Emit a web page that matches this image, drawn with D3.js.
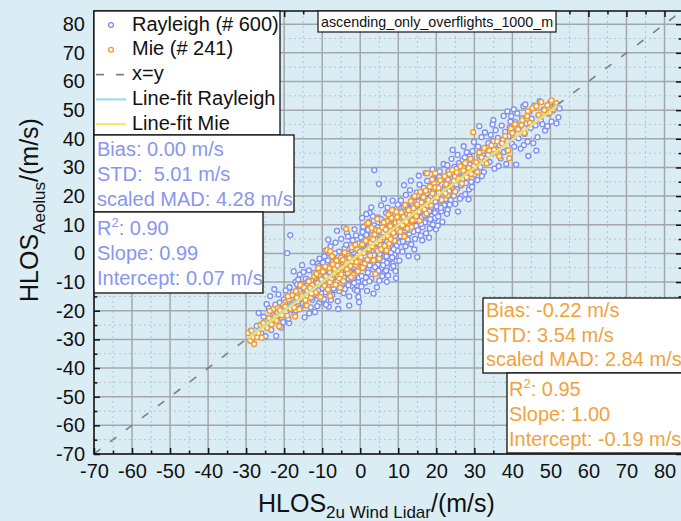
<!DOCTYPE html>
<html><head><meta charset="utf-8">
<script src="https://cdn.jsdelivr.net/npm/d3@7"></script>
<style>
html,body{margin:0;padding:0;background:#dbedf4;}
svg{display:block;font-family:"Liberation Sans",Arial,sans-serif;}
</style></head><body>
<svg id="chart" width="681" height="521"></svg>
<script>
// ---- data ----
const title = "ascending_only_overflights_1000_m";
const axisTicks = [-70,-60,-50,-40,-30,-20,-10,0,10,20,30,40,50,60,70,80];
const minorTicks = [-65,-55,-45,-35,-25,-15,-5,5,15,25,35,45,55,65,75];

// [HLOS 2u Wind Lidar, HLOS Aeolus] in m/s
const rayleigh = [
[-28.5,-30.1],[-27.2,-25.3],[-26.0,-27.9],[-25.4,-22.1],[-24.6,-17.7],[-23.7,-14.9],[-23.1,-20.4],[-22.6,-12.5],[-22.1,-28.8],[-21.8,-23.0],
[-21.2,-17.2],[-20.8,-25.9],[-20.3,-24.0],[-20.1,-16.1],[-24.0,-19.2],[-25.8,-24.6],[-27.9,-28.2],[-22.9,-21.5],[-21.5,-14.3],[-26.7,-20.8],
[-23.4,-26.7],[-24.9,-28.9],[-20.6,-19.8],[-22.3,-17.9],[-28.8,-27.0],
[-19.2,0.1],[-18.4,6.4],[-18.7,-24.3],[-19.5,-20.6],[-19.0,-15.4],[-18.6,-11.8],[-18.1,-18.0],[-17.7,-13.6],[-17.3,-21.2],[-17.0,-9.9],
[-16.8,-16.5],[-16.5,-12.7],[-16.2,-19.3],[-15.9,-7.4],[-15.6,-14.0],[-15.4,-10.6],[-15.1,-17.6],[-14.8,-12.2],[-14.6,-22.3],[-14.3,-8.8],
[-14.0,-15.1],[-13.8,-11.0],[-13.5,-5.9],[-13.3,-13.7],[-13.0,-18.8],[-12.8,-9.6],[-12.6,-16.2],[-12.3,-12.4],[-12.1,-6.8],[-11.9,-20.5],
[-11.7,-10.2],[-11.4,-14.6],[-11.2,-3.6],[-11.0,-8.1],[-10.8,-17.3],[-10.6,-11.7],[-10.4,-5.2],[-10.2,-13.9],[-10.1,-9.0],[-19.8,-17.1],
[-18.9,-22.8],[-17.5,-6.3],[-16.9,-19.9],[-16.0,-13.1],[-15.3,-4.1],[-14.4,-17.9],[-13.6,-9.4],[-12.9,-15.5],[-12.2,-10.9],[-11.6,-7.5],
[-11.1,-12.9],[-10.7,-1.8],[-10.3,-16.0],[-17.9,-14.7],[-16.3,-9.1],[-15.7,-19.0],[-14.9,-6.5],[-13.1,-11.6],[-12.5,-3.1],[-11.3,-18.4],
[-10.5,-7.9],[-14.1,-13.0],[-13.4,-20.9],[-16.6,-10.8],[-18.3,-19.6],[-15.0,-15.8],[-12.0,-14.1],[-10.9,-4.4],[-17.1,-17.0],[-19.6,-12.9],
[-9.9,-12.1],[-9.8,-3.2],[-9.6,-8.5],[-9.5,-15.9],[-9.3,-6.0],[-9.2,0.9],[-9.0,-10.7],[-8.9,-4.8],[-8.7,-13.3],[-8.6,-1.6],
[-8.4,-7.7],[-8.3,-18.6],[-8.1,-5.4],[-8.0,-11.2],[-7.8,2.5],[-7.7,-8.9],[-7.5,-3.9],[-7.4,-14.5],[-7.2,-6.7],[-7.1,-0.4],
[-6.9,-10.0],[-6.8,-4.3],[-6.6,-12.8],[-6.5,3.8],[-6.3,-7.1],[-6.2,-2.2],[-6.0,-9.6],[-5.9,-16.7],[-5.7,-5.0],[-5.6,0.6],
[-5.4,-8.2],[-5.3,-3.5],[-5.1,-11.9],[-5.0,5.1],[-4.8,-6.3],[-4.7,-1.0],[-4.5,-9.2],[-4.4,-13.8],[-4.2,-4.6],[-4.1,1.7],
[-3.9,-7.4],[-3.8,-2.7],[-3.6,-10.5],[-3.5,7.2],[-3.3,-5.7],[-3.2,-0.1],[-3.0,-8.8],[-2.9,-15.0],[-2.7,-3.4],[-2.6,2.9],
[-2.4,-6.9],[-2.3,-1.5],[-2.1,-11.4],[-2.0,4.6],[-1.8,-4.9],[-1.7,0.3],[-1.5,-8.0],[-1.4,-12.6],[-1.2,-2.5],[-1.1,6.3],
[-0.9,-6.2],[-0.8,-0.7],[-0.6,-9.8],[-0.5,-15.2],[-0.3,-17.0],[-0.2,2.0],[-0.1,-4.1],[-9.4,-1.0],[-8.8,-9.7],[-8.2,-14.0],
[-7.6,-2.9],[-7.0,-12.2],[-6.4,-5.8],[-5.8,-0.9],[-5.2,-7.6],[-4.6,-3.0],[-4.0,-12.4],[-3.4,-1.9],[-2.8,-6.4],[-2.2,1.2],
[-1.6,-10.3],[-1.0,-3.7],[-0.4,3.5],[-9.7,-6.9],[-9.1,-13.5],[-8.5,-2.4],[-7.9,-7.0],[-7.3,-10.9],[-6.7,0.0],[-6.1,-4.0],
[-5.5,-13.1],[-4.9,-2.0],[-4.3,-8.5],[-3.7,3.0],[-3.1,-11.1],[-2.5,-4.4],[-1.9,-8.6],[-1.3,1.5],[-0.7,-5.3],[-0.1,-1.2],
[-9.0,-17.9],[-7.7,-16.3],[-6.1,7.9],[-4.3,9.1],[-2.9,-18.2],[-1.5,8.4],[-8.4,4.8],[-5.8,-19.4],[-3.2,5.9],[-0.8,-13.0],
[-7.0,-4.6],[-5.0,-6.0],[-3.0,-3.1],[-1.0,-7.2],[-6.0,-8.0],[-4.0,-5.1],[-2.0,-2.8],[-8.0,-6.5],[-9.5,-9.3],[-0.4,-8.4],
[0.1,-3.0],[0.2,5.6],[0.4,-7.9],[0.5,1.1],[0.7,-1.7],[0.8,9.3],[1.0,-5.1],[1.1,2.8],[1.3,-10.2],[1.4,0.2],
[1.6,6.5],[1.7,-3.6],[1.9,3.9],[2.0,-6.7],[2.2,-0.8],[2.3,11.0],[2.5,-4.2],[2.6,1.8],[2.8,7.4],[2.9,-8.8],
[3.1,-1.4],[3.2,4.7],[3.4,-5.6],[3.5,0.9],[3.7,29.1],[3.7,9.8],[3.8,-2.3],[4.0,3.3],[4.1,-7.0],[4.3,6.1],
[4.4,0.0],[4.6,-3.9],[4.7,12.6],[4.9,24.3],[4.9,2.4],[5.0,-9.5],[5.2,7.7],[5.3,-1.1],[5.5,4.2],[5.6,-5.3],
[5.8,10.5],[5.9,1.4],[6.1,-2.8],[6.2,5.0],[6.4,-6.4],[6.5,8.6],[6.7,0.6],[6.8,14.1],[7.0,-3.3],[7.1,3.6],
[7.3,-7.7],[7.4,6.8],[7.6,1.9],[7.7,11.8],[7.9,-1.9],[8.0,4.4],[8.2,-5.0],[8.3,9.0],[8.5,2.2],[8.6,15.3],
[8.7,-3.4],[8.7,-4.4],[8.9,6.3],[9.0,-0.5],[9.2,12.2],[9.3,3.0],[9.5,-2.6],[9.6,8.0],[9.8,0.9],[9.9,17.0],
[0.3,-11.6],[0.9,3.5],[1.5,-8.4],[2.1,8.3],[2.7,-2.1],[3.3,13.0],[3.9,-4.8],[4.5,9.1],[5.1,-0.3],[5.7,2.9],
[6.3,11.2],[6.9,-1.0],[7.5,9.7],[8.1,0.4],[8.7,7.1],[9.3,-6.2],[9.9,5.5],[0.6,7.5],[1.2,-0.9],[1.8,10.3],
[2.4,-9.7],[3.0,2.5],[3.6,-0.6],[4.2,8.2],[4.8,-6.1],[5.4,12.0],[6.0,-4.1],[6.6,3.1],[7.2,16.0],[7.8,5.3],
[8.4,-1.4],[9.0,10.6],[9.6,2.7],[0.05,0.8],[1.05,4.3],[2.15,2.2],[3.05,6.4],[3.95,5.2],[5.15,3.1],[6.05,7.3],
[7.05,4.1],[8.05,8.4],[9.15,6.1],[2.5,14.2],[5.5,16.8],[8.5,18.4],[1.8,-13.1],[4.4,-11.8],[7.0,-9.9],[6.2,19.0],
[3.5,-14.0],[9.4,-8.6],[0.5,12.4],[7.9,13.5],[5.8,-7.9],[2.9,16.1],[6.8,-6.0],[8.8,1.5],[4.0,1.6],[1.6,13.7],
[10.1,7.3],[10.2,14.6],[10.4,3.9],[10.5,10.2],[10.7,18.5],[10.8,5.7],[11.0,12.1],[11.1,0.6],[11.3,9.0],[11.4,16.3],
[11.6,6.4],[11.7,13.3],[11.9,2.5],[12.0,20.4],[12.2,8.8],[12.3,11.6],[12.5,4.9],[12.6,15.7],[12.8,9.9],[12.9,6.9],
[13.1,22.1],[13.2,12.8],[13.4,3.2],[13.5,17.5],[13.7,10.4],[13.8,14.9],[14.0,7.6],[14.1,19.6],[14.3,12.3],[14.4,5.1],
[14.6,16.4],[14.7,9.6],[14.9,21.3],[15.0,-1.3],[15.0,13.7],[15.2,8.1],[15.3,18.2],[15.5,11.1],[15.6,24.0],[15.8,14.4],
[15.9,6.2],[16.1,20.0],[16.2,12.7],[16.4,9.2],[16.5,17.1],[16.7,22.9],[16.8,15.0],[17.0,10.8],[17.1,19.2],[17.3,7.0],
[17.4,13.9],[17.6,25.3],[17.7,16.6],[17.9,11.9],[18.0,21.7],[18.2,14.8],[18.3,8.7],[18.5,19.9],[18.6,23.6],[18.8,13.0],
[18.9,17.8],[19.1,10.1],[19.2,26.2],[19.4,15.6],[19.5,20.8],[19.7,12.4],[19.8,18.0],[10.3,-2.5],[11.5,23.8],[12.7,-0.9],
[13.3,25.4],[14.2,1.4],[15.4,27.1],[16.3,4.6],[17.2,28.0],[18.1,5.5],[19.0,29.3],[19.9,8.4],[10.9,9.4],[12.4,13.9],
[13.9,11.3],[15.7,16.9],[17.8,18.9],[18.7,16.1],[11.8,10.7],[14.8,14.1],[16.9,13.4],[19.3,22.5],[13.0,8.3],[16.0,10.3],
[17.5,21.0],[19.6,14.2],[10.6,6.0],[12.1,16.8],[14.5,11.8],[16.6,19.0],[18.4,12.0],[11.2,4.2],[15.1,20.1],[17.0,15.3],
[20.1,16.4],[20.3,24.8],[20.5,12.9],[20.7,21.2],[20.9,28.6],[21.1,18.3],[21.3,14.7],[21.5,25.9],[21.7,20.5],[21.9,31.2],
[22.1,16.9],[22.3,23.4],[22.5,19.0],[22.7,27.0],[22.9,30.8],[23.0,15.2],[23.2,28.7],[23.4,21.8],[23.6,25.1],[23.8,18.6],
[24.0,33.0],[24.2,23.0],[24.4,27.8],[24.6,20.1],[24.8,30.2],[25.0,17.3],[25.2,25.6],[25.4,22.4],[25.6,34.4],[25.8,28.1],
[26.0,31.5],[26.3,28.7],[26.5,23.7],[26.7,20.0],[26.9,32.6],[27.1,26.4],[27.3,29.9],[27.6,20.7],[27.8,24.5],[28.0,35.3],
[28.2,30.7],[28.4,27.3],[28.6,22.3],[28.8,33.8],[29.0,29.1],[29.2,25.0],[29.5,35.7],[29.7,31.9],[30.0,27.5],[20.4,9.7],
[21.6,11.0],[22.8,13.8],[24.3,36.1],[25.7,14.6],[27.2,37.4],[28.5,18.9],[20.8,26.6],[22.0,22.1],[23.5,17.0],[24.9,26.9],
[26.2,19.1],[27.5,33.5],[29.4,23.2],[21.2,15.9],[23.1,25.8],[25.3,29.5],[26.8,25.9],[28.9,31.0],[29.9,38.9],[20.6,19.6],
[30.8,25.6],[31.0,37.3],[31.3,44.4],[31.3,34.0],[31.6,30.1],[31.9,40.6],[32.2,35.8],[32.5,28.4],[32.8,42.2],[33.1,33.3],
[33.4,37.0],[33.7,38.5],[34.0,31.9],[34.3,41.4],[34.6,35.0],[35.0,46.5],[35.0,39.2],[35.3,29.6],[35.6,43.0],[35.9,36.4],
[36.2,40.3],[36.6,37.8],[36.9,33.1],[37.2,44.6],[37.5,39.6],[37.8,35.4],[38.1,42.4],[38.4,31.2],[38.7,49.6],[38.7,36.0],
[39.0,40.9],[39.3,44.0],[39.5,46.0],[39.7,47.9],[39.9,38.2],[32.0,27.0],[34.8,45.0],[36.4,30.5],[33.6,34.4],[37.7,48.0],
[40.2,42.6],[40.5,37.3],[40.8,45.8],[41.0,31.0],[41.3,48.9],[41.6,40.2],[41.9,44.1],[42.2,36.6],[42.5,47.2],[42.9,51.4],
[43.2,41.7],[43.4,52.0],[43.7,45.3],[44.0,39.0],[44.2,34.0],[44.5,49.4],[44.8,43.8],[45.1,47.0],[45.5,38.5],[45.8,51.6],
[46.1,44.7],[46.6,40.6],[46.9,48.2],[47.2,53.1],[47.5,46.3],[47.9,45.1],[48.2,50.2],[48.6,42.9],[49.2,44.4],[49.5,48.7],
[49.9,52.6],[50.3,46.0],[50.7,49.9],[51.2,51.3],[51.6,45.4],[52.1,47.5],[52.4,50.6],[40.4,50.3],[43.0,37.8],[46.3,35.9]
];

const mie = [
[-29.5,-27.8],[-28.9,-30.5],[-28.2,-29.2],[-27.9,-31.6],[-27.1,-29.2],[-26.8,-27.8],[-26.2,-25.0],[-25.5,-24.3],[-24.5,-26.0],[-24.0,-22.6],
[-23.3,-24.8],[-22.9,-19.4],[-22.4,-22.0],[-21.6,-19.1],[-21.3,-25.4],[-21.1,-19.8],[-20.6,-21.6],[-20.2,-17.9],[-28.6,-26.9],[-25.9,-29.4],
[-23.8,-20.1],[-22.0,-23.5],
[-19.7,-18.5],[-19.2,-21.7],[-18.8,-16.1],[-18.3,-19.3],[-17.9,-14.6],[-17.4,-18.9],[-16.9,-13.2],[-16.5,-16.8],[-16.0,-19.5],[-15.5,-14.2],
[-15.3,-14.9],[-14.8,-11.9],[-14.4,-16.3],[-13.9,-13.0],[-13.5,-9.8],[-13.0,-15.4],[-12.6,-11.1],[-12.1,-8.0],[-11.7,-13.6],[-11.2,-10.4],
[-11.0,-5.1],[-10.5,-15.2],[-10.2,-9.1],[-17.1,-22.0],[-15.8,-11.0],[-14.1,-18.2],[-12.8,-14.0],[-11.5,-7.2],[-19.0,-15.0],[-13.2,-12.1],
[-9.8,-6.4],[-9.4,-11.3],[-9.0,-8.0],[-8.7,1.2],[-8.5,-12.6],[-8.2,-5.2],[-7.9,0.8],[-7.9,-14.9],[-7.6,-9.0],[-7.2,-3.8],
[-6.9,-7.1],[-6.5,-10.9],[-6.2,-2.5],[-5.8,-6.0],[-5.5,-8.7],[-5.1,-1.4],[-4.8,-4.9],[-4.4,-9.6],[-4.1,0.3],[-3.7,8.5],
[-3.7,-3.2],[-3.3,-6.8],[-3.0,-0.9],[-2.6,-4.4],[-2.2,2.1],[-1.9,-7.5],[-1.5,-1.8],[-1.2,-4.0],[-0.8,1.4],[-0.4,-2.6],
[-0.1,0.6],[-9.2,-4.6],[-8.0,-10.1],[-6.7,-5.4],[-5.3,-12.0],[-4.6,-2.2],[-3.5,-5.5],[-2.4,-8.3],[-1.3,3.0],[-0.6,-6.2],
[-7.4,-1.0],[-6.0,-4.2],[-2.8,-1.6],[-1.0,-3.0],[-5.0,-7.3],
[0.2,-1.3],[0.5,3.1],[0.9,0.2],[1.2,-3.6],[1.5,4.4],[1.8,10.2],[2.1,10.6],[2.3,1.6],[2.6,-0.8],[2.9,5.3],
[3.2,2.4],[3.5,-2.4],[3.8,6.6],[4.0,-7.2],[4.3,3.8],[4.6,0.9],[4.9,7.9],[5.2,4.6],[5.5,1.5],[5.8,9.1],
[6.1,5.7],[6.4,2.6],[6.7,8.3],[7.0,11.2],[7.3,6.0],[7.6,3.4],[7.9,9.5],[8.2,12.4],[8.4,15.1],[8.7,7.1],
[9.0,4.4],[9.3,10.7],[9.7,12.7],[9.9,8.2],[0.7,-5.0],[3.0,8.9],[5.0,-1.8],[6.9,1.0],[8.0,5.0],[1.9,-2.2],
[4.5,12.0],[6.2,10.8],[9.5,14.5],[2.7,3.7],[7.4,13.6],
[10.2,10.9],[10.5,7.6],[10.8,14.3],[11.1,9.8],[11.4,12.7],[11.8,16.9],[12.1,11.0],[12.4,8.7],[12.7,15.1],[13.0,13.4],
[13.3,18.2],[13.7,11.6],[14.0,15.8],[14.3,20.0],[14.7,13.0],[15.0,17.1],[15.4,14.6],[15.8,21.4],[16.1,17.8],[16.6,19.6],
[16.9,15.3],[17.2,21.9],[17.6,28.0],[17.9,18.6],[18.3,23.3],[18.6,16.7],[19.0,20.9],[19.4,24.6],[19.7,28.0],[19.7,23.0],
[11.6,5.9],[13.5,9.2],[15.6,11.4],[17.4,13.9],[18.9,25.8],
[20.2,19.5],[20.6,22.8],[21.0,25.5],[21.4,18.7],[21.8,21.3],[22.2,26.9],[22.6,24.1],[23.0,20.2],[23.4,27.7],[23.8,23.6],
[24.2,29.1],[24.6,25.3],[25.0,21.6],[25.4,28.3],[25.8,26.0],[26.3,30.4],[26.7,24.4],[27.1,28.9],[27.6,31.5],[28.0,26.6],
[28.5,29.8],[29.0,33.0],[29.2,27.7],[29.7,42.3],[29.9,30.6],
[30.5,31.8],[30.8,28.4],[31.3,35.2],[31.9,33.5],[32.6,36.8],[33.2,31.4],[33.9,35.9],[34.5,37.7],[35.2,36.2],[36.0,39.1],
[36.3,34.6],[36.6,33.9],[37.3,38.4],[38.1,41.0],[38.9,36.0],[39.2,33.2],[39.6,43.5],[40.0,42.0],
[40.7,45.1],[41.5,43.3],[42.4,44.8],[42.6,46.5],[43.2,42.0],[43.9,47.9],[44.6,45.6],[45.3,50.7],[46.3,51.4],[46.9,48.3],
[47.6,52.8],[48.4,50.0],[49.2,51.7],[49.8,49.1],[50.8,50.3],[51.6,52.4],[44.1,49.6],[50.3,53.4],[-16.7,-15.5],[3.4,4.9],[22.4,20.9]
];

// linear fits: [slope, intercept]
const rayleighFit = [0.99, 0.07];
const mieFit = [1.00, -0.19];

const legendLabels = ["Rayleigh (# 600)", "Mie (# 241)", "x=y", "Line-fit Rayleigh", "Line-fit Mie"];
const rayleighErrText = ["Bias: 0.00 m/s", "STD:  5.01 m/s", "scaled MAD: 4.28 m/s"];
const rayleighFitText = [["R", "2", ": 0.90"], ["Slope: 0.99"], ["Intercept: 0.07 m/s"]];
const mieErrText = ["Bias: -0.22 m/s", "STD: 3.54 m/s", "scaled MAD: 2.84 m/s"];
const mieFitText = [["R", "2", ": 0.95"], ["Slope: 1.00"], ["Intercept: -0.19 m/s"]];

// ---- styles ----
const C = {
  bg: "#dbedf4",
  ray: "#7d8df4",
  rayText: "#8896ee",
  mie: "#f39c2c",
  mieText: "#f2a23c",
  rayFit: "#8fdcf2",
  mieFit: "#f5e064",
  diag: "#7f7f7f",
  major: "#a2a8aa",
  minor: "#b9c3c7"
};
const FS = 20;
const tickText = d => String(d);   // plain hyphen-minus for negatives

const svg = d3.select("#chart");
const x = d3.scaleLinear().domain([-70, 84.6]).range([94, 682]);
const y = d3.scaleLinear().domain([-70, 84.6]).range([454, 11]);
const [x0, x1] = x.range();
const [y0, y1] = y.range();

svg.append("rect").attr("width", 681).attr("height", 521).attr("fill", C.bg);

svg.append("defs").append("clipPath").attr("id", "plotclip")
  .append("rect").attr("x", x0).attr("y", y1).attr("width", x1 - x0).attr("height", y0 - y1);

// grid
const grid = svg.append("g");
grid.selectAll(".gxm").data(minorTicks).join("line")
  .attr("x1", d => x(d)).attr("x2", d => x(d)).attr("y1", y1).attr("y2", y0)
  .attr("stroke", C.minor).attr("stroke-width", 1).attr("stroke-dasharray", "2,3");
grid.selectAll(".gym").data(minorTicks).join("line")
  .attr("y1", d => y(d)).attr("y2", d => y(d)).attr("x1", x0).attr("x2", x1)
  .attr("stroke", C.minor).attr("stroke-width", 1).attr("stroke-dasharray", "2,3");
grid.selectAll(".gx").data(axisTicks).join("line")
  .attr("x1", d => x(d)).attr("x2", d => x(d)).attr("y1", y1).attr("y2", y0)
  .attr("stroke", C.major).attr("stroke-width", 1.5);
grid.selectAll(".gy").data(axisTicks).join("line")
  .attr("y1", d => y(d)).attr("y2", d => y(d)).attr("x1", x0).attr("x2", x1)
  .attr("stroke", C.major).attr("stroke-width", 1.5);

const plot = svg.append("g").attr("clip-path", "url(#plotclip)");

// scatter
plot.append("g").selectAll("circle").data(rayleigh).join("circle")
  .attr("cx", d => x(d[0])).attr("cy", d => y(d[1])).attr("r", 2.5)
  .attr("fill", "#f3f6fd").attr("stroke", C.ray).attr("stroke-width", 1.3);
plot.append("g").selectAll("circle").data(mie).join("circle")
  .attr("cx", d => x(d[0])).attr("cy", d => y(d[1])).attr("r", 2.5)
  .attr("fill", "#fdf6ec").attr("stroke", C.mie).attr("stroke-width", 1.4);

// x = y reference
const dom = x.domain();
plot.append("line")
  .attr("x1", x(dom[0])).attr("y1", y(dom[0])).attr("x2", x(dom[1])).attr("y2", y(dom[1]))
  .attr("stroke", C.diag).attr("stroke-width", 1.6).attr("stroke-dasharray", "8,12");

// fit lines over each series' x-range
function fitLine(pts, fit, color) {
  const ext = d3.extent(pts, d => d[0]);
  plot.append("line")
    .attr("x1", x(ext[0])).attr("y1", y(fit[0] * ext[0] + fit[1]))
    .attr("x2", x(ext[1])).attr("y2", y(fit[0] * ext[1] + fit[1]))
    .attr("stroke", color).attr("stroke-width", 2);
}
fitLine(rayleigh, rayleighFit, C.rayFit);
fitLine(mie, mieFit, C.mieFit);

// axes (ticks point inward)
function styleAxis(g) {
  g.select(".domain").remove();
  g.selectAll("line").attr("stroke", "#111").attr("stroke-width", 1.5);
  g.selectAll("text").attr("font-size", FS).attr("fill", "#111")
    .attr("font-family", '"Liberation Sans", Arial, sans-serif');
}
svg.append("g").attr("transform", `translate(0,${y0})`)
  .call(d3.axisBottom(x).tickValues(axisTicks).tickSize(-6).tickPadding(10).tickFormat(tickText))
  .call(styleAxis);
svg.append("g").attr("transform", `translate(0,${y0})`)
  .call(d3.axisBottom(x).tickValues(minorTicks).tickSize(-3.5).tickFormat(""))
  .call(styleAxis);
svg.append("g").attr("transform", `translate(${x0},0)`)
  .call(d3.axisLeft(y).tickValues(axisTicks).tickSize(-6).tickPadding(9).tickFormat(tickText))
  .call(styleAxis);
svg.append("g").attr("transform", `translate(${x0},0)`)
  .call(d3.axisLeft(y).tickValues(minorTicks).tickSize(-3.5).tickFormat(""))
  .call(styleAxis);
svg.append("g").attr("transform", `translate(0,${y1})`)
  .call(d3.axisTop(x).tickValues(axisTicks).tickSize(-6).tickFormat(""))
  .call(styleAxis);
svg.append("g").attr("transform", `translate(0,${y1})`)
  .call(d3.axisTop(x).tickValues(minorTicks).tickSize(-3.5).tickFormat(""))
  .call(styleAxis);
svg.append("g").attr("transform", `translate(${x1},0)`)
  .call(d3.axisRight(y).tickValues(axisTicks).tickSize(-6).tickFormat(""))
  .call(styleAxis);
svg.append("g").attr("transform", `translate(${x1},0)`)
  .call(d3.axisRight(y).tickValues(minorTicks).tickSize(-3.5).tickFormat(""))
  .call(styleAxis);

// frame
svg.append("rect").attr("x", x0).attr("y", y1).attr("width", x1 - x0).attr("height", y0 - y1)
  .attr("fill", "none").attr("stroke", "#111").attr("stroke-width", 1.5);

// axis titles
const xt = svg.append("text").attr("x", 258).attr("y", 512).attr("fill", "#111");
xt.append("tspan").attr("font-size", 25).text("HLOS");
xt.append("tspan").attr("font-size", 17).attr("dy", 6).text("2u Wind Lidar");
xt.append("tspan").attr("font-size", 25).attr("dy", -6).text("/(m/s)");

const yt = svg.append("text").attr("transform", "translate(38,302) rotate(-90)").attr("fill", "#111");
yt.append("tspan").attr("font-size", 25).text("HLOS");
yt.append("tspan").attr("font-size", 17).attr("dy", 7).text("Aeolus");
yt.append("tspan").attr("font-size", 25).attr("dy", -7).text("/(m/s)");

// title box
svg.append("rect").attr("x", 318).attr("y", 11).attr("width", 238).attr("height", 21)
  .attr("fill", "#fff").attr("stroke", "#111").attr("stroke-width", 1.2);
svg.append("text").attr("x", 321).attr("y", 27).attr("font-size", 14.3).attr("fill", "#111").text(title);

// legend
const lg = svg.append("g");
lg.append("rect").attr("x", 94).attr("y", 11).attr("width", 186).attr("height", 124)
  .attr("fill", "#fff").attr("stroke", "#111").attr("stroke-width", 1.3);
const rowY = i => 25 + i * 24.8;
lg.append("circle").attr("cx", 111).attr("cy", rowY(0)).attr("r", 2.4)
  .attr("fill", "#fff").attr("stroke", C.ray).attr("stroke-width", 1.3);
lg.append("circle").attr("cx", 111).attr("cy", rowY(1)).attr("r", 2.4)
  .attr("fill", "#fff").attr("stroke", C.mie).attr("stroke-width", 1.3);
lg.append("line").attr("x1", 96).attr("x2", 126).attr("y1", rowY(2)).attr("y2", rowY(2))
  .attr("stroke", C.diag).attr("stroke-width", 1.6).attr("stroke-dasharray", "8,12");
lg.append("line").attr("x1", 96).attr("x2", 126).attr("y1", rowY(3)).attr("y2", rowY(3))
  .attr("stroke", C.rayFit).attr("stroke-width", 2);
lg.append("line").attr("x1", 96).attr("x2", 126).attr("y1", rowY(4)).attr("y2", rowY(4))
  .attr("stroke", C.mieFit).attr("stroke-width", 2);
lg.selectAll("text.l").data(legendLabels).join("text")
  .attr("x", 132).attr("y", (d, i) => rowY(i) + 5.5).attr("font-size", FS).attr("fill", "#111")
  .text(d => d);

// statistics boxes
function statBox(bx, by, bw, bh, tx, baselines, lines, color) {
  const g = svg.append("g");
  g.append("rect").attr("x", bx).attr("y", by).attr("width", bw).attr("height", bh)
    .attr("fill", "#fff").attr("stroke", "#111").attr("stroke-width", 1.3);
  lines.forEach((ln, i) => {
    const t = g.append("text").attr("x", tx).attr("y", baselines[i])
      .attr("font-size", FS).attr("fill", color).style("white-space", "pre");
    if (Array.isArray(ln) && ln.length === 3) {
      t.append("tspan").text(ln[0]);
      t.append("tspan").attr("font-size", 13).attr("dy", -8).text(ln[1]);
      t.append("tspan").attr("dy", 8).text(ln[2]);
    } else {
      t.text(Array.isArray(ln) ? ln[0] : ln);
    }
  });
}
statBox(94, 135, 200, 77, 97, [156, 181, 206], rayleighErrText, C.rayText);
statBox(94, 212, 169, 81, 97, [235, 260, 285], rayleighFitText, C.rayText);
statBox(483, 298, 202, 75, 486, [317, 342, 366], mieErrText, C.mieText);
statBox(507, 373, 178, 80, 509, [396, 421, 446], mieFitText, C.mieText);
</script>
</body></html>
